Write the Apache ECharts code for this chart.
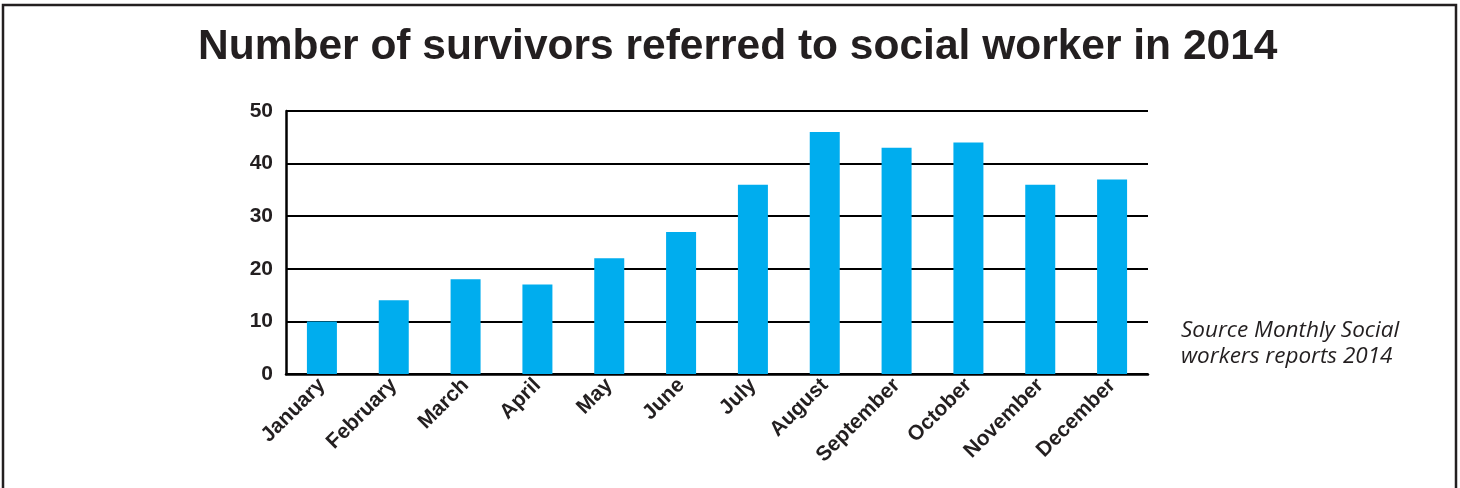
<!DOCTYPE html>
<html>
<head>
<meta charset="utf-8">
<script src="https://cdn.jsdelivr.net/npm/echarts@6/dist/echarts.min.js"></script>
<style>
  html, body { margin: 0; padding: 0; background: #fff; }
  #chart { width: 1460px; height: 488px; }
</style>
</head>
<body>
<div id="chart"></div>
<script>
const titleText = 'Number of survivors referred to social worker in 2014';
const categories = ['January', 'February', 'March', 'April', 'May', 'June', 'July', 'August', 'September', 'October', 'November', 'December'];
const survivors = [10, 14, 18, 17, 22, 27, 36, 46, 43, 44, 36, 37];
const yTicks = [0, 10, 20, 30, 40, 50];
const sourceLines = ['Source Monthly Social', 'workers reports 2014'];

const chart = echarts.init(document.getElementById('chart'), null, { renderer: 'canvas' });
chart.setOption({
  backgroundColor: '#ffffff',
  animation: false,
  title: {
    text: titleText,
    left: 193,
    top: 21,
    padding: 5,
    textStyle: { fontFamily: 'Liberation Sans, Arial, sans-serif', fontWeight: 'bold', fontSize: 42.5, color: '#231f20' }
  },
  grid: { left: 286, right: 312, top: 111, bottom: 114, containLabel: false },
  xAxis: {
    type: 'category',
    data: categories,
    axisLine: { lineStyle: { color: '#000', width: 2.5 } },
    axisTick: { show: false },
    axisLabel: {
      rotate: 45,
      margin: 8,
      interval: 0,
      fontFamily: 'Liberation Sans, Arial, sans-serif',
      fontWeight: 'bold',
      fontSize: 21,
      color: '#231f20'
    }
  },
  yAxis: {
    type: 'value',
    min: yTicks[0],
    max: yTicks[yTicks.length - 1],
    interval: 10,
    axisLine: { show: true, lineStyle: { color: '#000', width: 2.5 } },
    axisTick: { show: false },
    splitLine: { lineStyle: { color: '#000', width: 2 } },
    axisLabel: {
      margin: 13,
      fontFamily: 'Liberation Sans, Arial, sans-serif',
      fontWeight: 'bold',
      fontSize: 21,
      color: '#231f20'
    }
  },
  series: [{
    type: 'bar',
    data: survivors,
    barWidth: 30,
    itemStyle: { color: '#00adee' }
  }],
  graphic: [
    {
      type: 'rect',
      shape: { x: 3, y: 5, width: 1453, height: 520 },
      style: { fill: null, stroke: '#231f20', lineWidth: 2.5 },
      silent: true
    },
    {
      type: 'text',
      left: 1181,
      top: 318,
      style: {
        text: sourceLines.join('\n'),
        fontFamily: 'Open Sans, Noto Sans, sans-serif',
        fontStyle: 'italic',
        fontSize: 22.5,
        lineHeight: 26,
        fill: '#231f20'
      }
    }
  ]
});
</script>
</body>
</html>
